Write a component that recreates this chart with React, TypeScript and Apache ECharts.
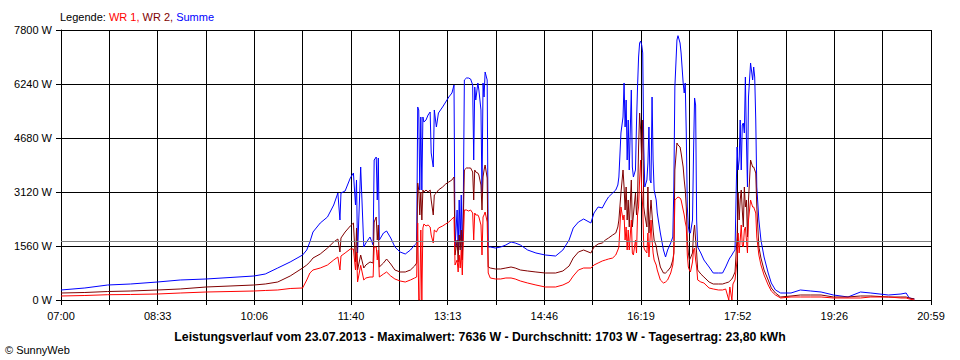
import React, { useEffect, useRef } from "react";
import * as echarts from "echarts";

// ---- data ----
const START = "07:00";
const END = "20:59";
const xTickLabels = ["07:00", "08:33", "10:06", "11:40", "13:13", "14:46", "16:19", "17:52", "19:26", "20:59"];
const X_DIVISIONS = 18;
const Y_MAX = 7800;
const Y_STEP = 1560;
const AVERAGE = 1703;

const times = [
  "07:00", "07:23", "07:45", "08:07", "08:33", "08:55", "09:20", "09:43", "10:06", "10:17",
  "10:29", "10:41", "10:53", "10:57", "11:00", "11:03", "11:10", "11:17", "11:23", "11:27",
  "11:29", "11:30", "11:34", "11:39", "11:42", "11:44", "11:45", "11:46", "11:49", "11:52",
  "11:54", "11:58", "12:01", "12:02", "12:04", "12:05", "12:06", "12:07", "12:11", "12:14",
  "12:18", "12:22", "12:27", "12:32", "12:37", "12:41", "12:43", "12:44", "12:45", "12:46",
  "12:47", "12:48", "12:49", "12:50", "12:52", "12:54", "12:56", "12:57", "12:59", "13:00",
  "13:02", "13:04", "13:08", "13:11", "13:14", "13:17", "13:19", "13:20", "13:22", "13:23",
  "13:24", "13:25", "13:26", "13:27", "13:28", "13:29", "13:31", "13:33", "13:35", "13:37",
  "13:38", "13:39", "13:40", "13:42", "13:43", "13:45", "13:46", "13:47", "13:48", "13:49",
  "13:51", "13:52", "13:54", "13:59", "14:04", "14:09", "14:14", "14:18", "14:23", "14:30",
  "14:38", "14:47", "14:57", "15:04", "15:10", "15:14", "15:19", "15:24", "15:31", "15:34",
  "15:38", "15:42", "15:45", "15:48", "15:52", "15:55", "15:57", "15:58", "16:00", "16:02",
  "16:03", "16:04", "16:05", "16:06", "16:07", "16:08", "16:10", "16:11", "16:12", "16:14",
  "16:15", "16:16", "16:17", "16:18", "16:19", "16:20", "16:21", "16:22", "16:23", "16:25",
  "16:26", "16:27", "16:28", "16:29", "16:30", "16:31", "16:32", "16:34", "16:35", "16:38",
  "16:41", "16:43", "16:45", "16:48", "16:50", "16:51", "16:52", "16:54", "16:55", "16:57",
  "16:58", "17:00", "17:01", "17:02", "17:03", "17:04", "17:05", "17:06", "17:07", "17:09",
  "17:10", "17:11", "17:12", "17:13", "17:14", "17:17", "17:20", "17:25", "17:29", "17:34",
  "17:38", "17:41", "17:44", "17:45", "17:47", "17:48", "17:50", "17:52", "17:53", "17:54",
  "17:55", "17:56", "17:57", "17:58", "17:59", "18:00", "18:01", "18:02", "18:03", "18:05",
  "18:07", "18:08", "18:09", "18:10", "18:11", "18:13", "18:15", "18:18", "18:22", "18:25",
  "18:29", "18:34", "18:44", "18:53", "19:03", "19:13", "19:25", "19:39", "19:51", "20:01",
  "20:18", "20:30", "20:35", "20:38", "20:43",
];

const summe = [
  289, 347, 433, 462, 520, 578, 607, 650, 693, 751,
  924, 1098, 1300, 1444, 1676, 1964, 2224, 2398, 2744, 3091,
  2311, 3091, 3149, 3524, 3669, 2744, 3467, 1358, 3842, 1531,
  1647, 1820, 1589, 4044, 4131, 2889, 4102, 1733, 1936, 1993,
  1791, 1531, 1387, 1329, 1444, 1589, 1647, 5576, 5489, 3178,
  5287, 3178, 5287, 5142, 5200, 5344, 5431, 4247, 3842, 5489,
  4998, 5402, 5576, 5720, 5864, 5980, 6211, 1531, 2600, 1444,
  2889, 1733, 3033, 1300, 2889, 6356, 6413, 6413, 6384, 6211,
  4044, 6153, 5778, 6269, 6067, 5489, 3091, 6269, 5864, 6587,
  6356, 1531, 1531, 1502, 1531, 1589, 1676, 1647, 1589, 1444,
  1358, 1300, 1271, 1444, 1733, 2080, 2253, 2340, 2224, 2513,
  2687, 2658, 2831, 2976, 3091, 3178, 3322, 3553, 4824, 5287,
  6269, 4998, 5778, 4044, 5200, 3756, 6067, 3842, 3553, 3756,
  5113, 6153, 7020, 7424, 7482, 7367, 7136, 4420, 3264, 3467,
  3958, 4998, 3467, 3380, 5864, 4044, 3178, 2889, 2513, 1936,
  1444, 1242, 1444, 1647, 1820, 3264, 6153, 7511, 7636, 7424,
  7136, 6269, 5980, 6269, 4824, 2687, 2109, 1936, 1936, 2311,
  4247, 5836, 5633, 2311, 1531, 1358, 1156, 953, 780, 780,
  780, 953, 1156, 1213, 1300, 1358, 1444, 4420, 3756, 4044,
  5200, 3756, 5056, 5113, 4824, 6442, 4622, 3264, 5864, 6847,
  6356, 6731, 6442, 5200, 3264, 2311, 1733, 1242, 780, 491,
  289, 202, 202, 289, 260, 231, 144, 87, 231, 202,
  144, 173, 202, 58, 29,
];

const wr2 = [
  202, 217, 245, 260, 289, 318, 376, 404, 433, 462,
  520, 693, 924, 1011, 1098, 1213, 1329, 1502, 1676, 1762,
  1387, 1791, 1964, 2138, 2224, 1098, 2080, 867, 1300, 924,
  1011, 1098, 1069, 2253, 2398, 1733, 2167, 953, 1069, 1184,
  1040, 867, 809, 809, 867, 982, 1069, 3380, 3178, 2456,
  3120, 2311, 3178, 3120, 3178, 3120, 3178, 2889, 2456, 3033,
  3091, 3178, 3264, 3351, 3409, 3467, 3553, 1300, 1733, 1098,
  1878, 1444, 2022, 1156, 2311, 3756, 3813, 3813, 3813, 3698,
  2889, 3756, 3698, 3669, 3611, 3322, 2600, 3553, 3756, 3900,
  3524, 953, 924, 896, 896, 924, 953, 924, 867, 838,
  809, 780, 780, 838, 982, 1213, 1387, 1444, 1358, 1531,
  1618, 1647, 1733, 1791, 1878, 1936, 2109, 2311, 3091, 3756,
  3264, 2600, 3264, 2311, 2889, 2109, 3467, 2109, 2456, 3091,
  2456, 2889, 4420, 5402, 4911, 4044, 5200, 2687, 2456, 2109,
  3264, 1936, 2456, 2889, 2456, 2022, 1733, 1560, 1358, 953,
  780, 780, 838, 953, 1156, 1358, 3756, 4536, 4478, 4420,
  4247, 3842, 3467, 3178, 2687, 1733, 1358, 1156, 1213, 1358,
  1936, 2167, 1733, 1358, 867, 751, 664, 520, 462, 462,
  462, 491, 520, 549, 607, 664, 809, 1820, 3091, 2311,
  2889, 3178, 2600, 2109, 3264, 2687, 2889, 1820, 2889, 4044,
  3842, 3842, 3756, 3669, 2687, 1531, 1213, 867, 578, 347,
  202, 87, 116, 144, 144, 144, 87, 87, 116, 116,
  87, 87, 87, 58, 29,
];

const wr1 = [
  116, 130, 153, 159, 173, 202, 231, 245, 260, 275,
  289, 332, 347, 578, 780, 867, 924, 1011, 1156, 1242,
  867, 1271, 1358, 1473, 1473, 867, 1387, 520, 1000, 578,
  636, 664, 664, 1531, 1531, 1156, 1444, 664, 751, 809,
  693, 607, 549, 520, 578, 636, 664, 2224, 0, 0,
  2022, 0, 2080, 2196, 2138, 2167, 2109, 1878, 1647, 2022,
  1964, 2080, 2138, 2196, 2253, 2340, 2398, 1011, 1156, 809,
  1300, 924, 1444, 722, 1733, 2600, 2600, 2571, 2600, 2513,
  1733, 2513, 2456, 2456, 2398, 2167, 1300, 2398, 2456, 2542,
  2253, 780, 636, 607, 607, 636, 636, 607, 549, 491,
  433, 376, 376, 433, 520, 693, 867, 924, 924, 1011,
  1069, 1127, 1156, 1184, 1213, 1300, 1444, 1531, 2687, 2311,
  2456, 1733, 2109, 1444, 2022, 1444, 2311, 1358, 1300, 1733,
  1358, 2456, 2687, 3467, 4044, 3178, 2687, 1531, 1444, 1358,
  1936, 1242, 1733, 2311, 1733, 1358, 1156, 1011, 867, 578,
  491, 520, 578, 780, 1011, 1358, 2889, 2947, 2976, 2947,
  2889, 2600, 2456, 2253, 2109, 1300, 953, 867, 809, 1098,
  1444, 1502, 1156, 953, 578, 520, 491, 347, 318, 289,
  289, 318, 0, 376, 0, 462, 578, 1156, 1936, 1358,
  1733, 2167, 1589, 1531, 2022, 2109, 1733, 1358, 2311, 2889,
  2687, 2687, 2600, 2513, 1820, 1300, 1011, 722, 433, 260,
  144, 58, 87, 87, 87, 87, 58, 58, 58, 87,
  87, 58, 58, 29, 0,
];

// ---- helpers ----
const toMin = (t: string) => {
  const [h, m] = t.split(":").map(Number);
  return h * 60 + m;
};
const SPAN = toMin(END) - toMin(START);
const X_STEP = SPAN / X_DIVISIONS;
const pts = (vals: number[]) => times.map((t, i) => [toMin(t) - toMin(START), vals[i]]);

const FONT = "'Liberation Sans', Arial, sans-serif";

export default function App() {
  const ref = useRef<HTMLDivElement>(null);

  useEffect(() => {
    if (!ref.current) return;
    const chart = echarts.init(ref.current, null, { renderer: "svg" });
    const lineSeries = (name: string, color: string, vals: number[], extra: any = {}) => ({
      name,
      type: "line",
      data: pts(vals),
      showSymbol: false,
      symbol: "none",
      lineStyle: { color, width: 1 },
      itemStyle: { color },
      emphasis: { disabled: true },
      ...extra,
    });
    chart.setOption({
      animation: false,
      backgroundColor: "#ffffff",
      textStyle: { fontFamily: FONT },
      grid: { left: 61, right: 29, top: 30, bottom: 60, containLabel: false },
      xAxis: {
        type: "value",
        min: 0,
        max: SPAN,
        interval: X_STEP,
        axisLine: { show: true, lineStyle: { color: "#000", width: 1 } },
        axisTick: { show: true, length: 5, lineStyle: { color: "#000" } },
        splitLine: { show: true, lineStyle: { color: "#000", width: 1 } },
        axisLabel: {
          color: "#000",
          fontSize: 11,
          fontFamily: FONT,
          margin: 10,
          showMinLabel: true,
          showMaxLabel: true,
          formatter: (v: number) => {
            const i = Math.round(v / X_STEP);
            return i % 2 === 0 ? xTickLabels[i / 2] ?? "" : "";
          },
        },
      },
      yAxis: {
        type: "value",
        min: 0,
        max: Y_MAX,
        interval: Y_STEP,
        axisLine: { show: true, lineStyle: { color: "#000", width: 1 } },
        axisTick: { show: true, length: 5, lineStyle: { color: "#000" } },
        splitLine: { show: true, lineStyle: { color: "#000", width: 1 } },
        axisLabel: {
          color: "#000",
          fontSize: 11,
          fontFamily: FONT,
          margin: 9,
          formatter: (v: number) => `${v} W`,
        },
      },
      series: [
        lineSeries("Summe", "#0000ff", summe, {
          markLine: {
            silent: true,
            symbol: "none",
            label: { show: false },
            lineStyle: { color: "#808080", type: "solid", width: 1 },
            data: [{ yAxis: AVERAGE }],
          },
        }),
        lineSeries("WR 2", "#800000", wr2),
        lineSeries("WR 1", "#ff0000", wr1),
      ],
      graphic: [
        {
          type: "text",
          left: 60,
          top: 11,
          style: {
            text: "{k|Legende: }{a|WR 1, }{b|WR 2, }{c|Summe}",
            font: `11px ${FONT}`,
            rich: {
              k: { fill: "#000", fontSize: 11, fontFamily: FONT },
              a: { fill: "#ff0000", fontSize: 11, fontFamily: FONT },
              b: { fill: "#800000", fontSize: 11, fontFamily: FONT },
              c: { fill: "#0000ff", fontSize: 11, fontFamily: FONT },
            },
          },
        },
        {
          type: "text",
          x: 480,
          y: 337,
          style: {
            text: `Leistungsverlauf vom 23.07.2013 - Maximalwert: 7636 W - Durchschnitt: ${AVERAGE} W - Tagesertrag: 23,80 kWh`,
            font: `bold 12.3px ${FONT}`,
            fill: "#000",
            align: "center",
            verticalAlign: "middle",
          },
        },
        {
          type: "text",
          x: 5,
          y: 350,
          style: {
            text: "© SunnyWeb",
            font: `11px ${FONT}`,
            fill: "#000",
            align: "left",
            verticalAlign: "middle",
          },
        },
      ],
    });
    return () => chart.dispose();
  }, []);

  return (
    <div
      ref={ref}
      style={{ position: "fixed", left: 0, top: 0, width: 960, height: 360, background: "#fff" }}
    />
  );
}
